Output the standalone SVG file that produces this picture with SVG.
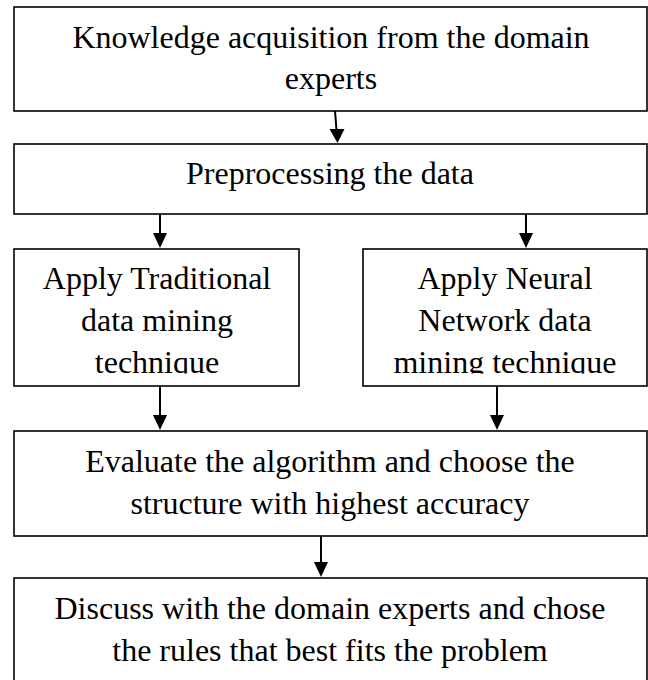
<svg xmlns="http://www.w3.org/2000/svg" width="648" height="680" viewBox="0 0 648 680">
<style>
.box{fill:#fff;stroke:#000;stroke-width:1.6}
.t{font-family:"Liberation Serif","Times New Roman",serif;font-size:32px;fill:#000;text-anchor:middle}
.ln{stroke:#000;stroke-width:2;fill:none}
.hd{fill:#000}
</style>
<defs>
<clipPath id="c3l"><rect x="14" y="249" width="285" height="124.5"/></clipPath>
<clipPath id="c3r"><rect x="363" y="249" width="284" height="124.5"/></clipPath>
</defs>
<rect width="648" height="680" fill="#fff"/>
<g id="connectors">
<path class="ln" d="M335 111 L336.5 130"/>
<polygon class="hd" points="329.5,129 344.5,129 337.5,143"/>
<path class="ln" d="M160 214 L160 234"/>
<polygon class="hd" points="153,233 167,233 160,248"/>
<path class="ln" d="M526 212 L526 234"/>
<polygon class="hd" points="519,233 533,233 526,248"/>
<path class="ln" d="M160 386 L160 416"/>
<polygon class="hd" points="153,415 167,415 160,430"/>
<path class="ln" d="M497 386 L497 416"/>
<polygon class="hd" points="490,415 504,415 497,430"/>
<path class="ln" d="M321 536 L321 563"/>
<polygon class="hd" points="314,562 328,562 321,577"/>
</g>
<g id="n1">
<rect class="box" x="14" y="7" width="633" height="104"/>
<text class="t" x="331" y="48">Knowledge acquisition from the domain</text>
<text class="t" x="331" y="89">experts</text>
</g>
<g id="n2">
<rect class="box" x="14" y="144" width="633" height="70"/>
<text class="t" x="330" y="184">Preprocessing the data</text>
</g>
<g id="n3">
<rect class="box" x="14" y="249" width="285" height="137"/>
<g clip-path="url(#c3l)">
<text class="t" x="157" y="289">Apply Traditional</text>
<text class="t" x="157" y="331">data mining</text>
<text class="t" x="157" y="373">technique</text>
</g>
</g>
<g id="n4">
<rect class="box" x="363" y="249" width="284" height="137"/>
<g clip-path="url(#c3r)">
<text class="t" x="505" y="289">Apply Neural</text>
<text class="t" x="505" y="331">Network data</text>
<text class="t" x="505" y="373">mining technique</text>
</g>
</g>
<g id="n5">
<rect class="box" x="14" y="431" width="633" height="105"/>
<text class="t" x="330" y="472">Evaluate the algorithm and choose the</text>
<text class="t" x="330" y="514">structure with highest accuracy</text>
</g>
<g id="n6">
<rect class="box" x="14" y="578" width="633" height="120"/>
<text class="t" x="330" y="619">Discuss with the domain experts and chose</text>
<text class="t" x="330" y="661">the rules that best fits the problem</text>
</g>
</svg>
